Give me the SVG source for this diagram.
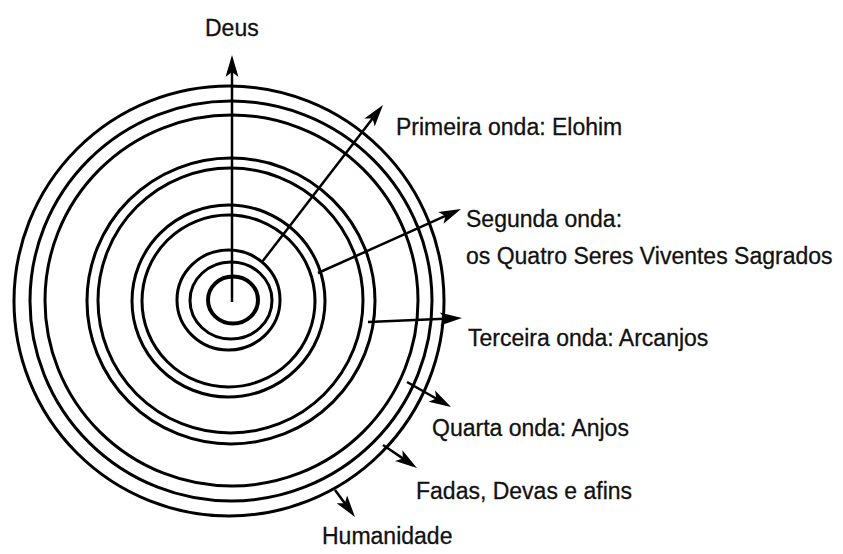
<svg xmlns="http://www.w3.org/2000/svg" width="843" height="554" viewBox="0 0 843 554">
<style>
.ring{fill:none;stroke:#000;stroke-width:3}
.arr{stroke:#000;stroke-width:2.5;fill:none;marker-end:url(#ah)}
.lbl{font-family:"Liberation Sans",Arial,sans-serif;font-size:23px;fill:#111;stroke:#111;stroke-width:0.3}
</style>
<defs>
<marker id="ah" markerUnits="userSpaceOnUse" markerWidth="22" markerHeight="13" refX="16" refY="6.5" orient="auto" overflow="visible">
<path d="M0,0 L22,6.5 L0,13 L5,6.5 z" fill="#000"/>
</marker>
</defs>
<rect width="843" height="554" fill="#fff"/>
<g id="rings">
<ellipse class="ring" cx="233" cy="300" rx="25" ry="23.5" style="stroke-width:4"/>
<ellipse class="ring" cx="231" cy="300.5" rx="41" ry="38.5"/>
<ellipse class="ring" cx="228.5" cy="300" rx="51.5" ry="50"/>
<ellipse class="ring" cx="228.5" cy="301" rx="86.5" ry="86"/>
<ellipse class="ring" cx="228.5" cy="301" rx="96.5" ry="96"/>
<ellipse class="ring" cx="230.5" cy="300.5" rx="132.5" ry="132.5"/>
<ellipse class="ring" cx="231" cy="301" rx="144" ry="143"/>
<ellipse class="ring" cx="231.5" cy="300.5" rx="186.5" ry="185.5"/>
<ellipse class="ring" cx="231" cy="301" rx="201" ry="200"/>
<ellipse class="ring" cx="229" cy="301" rx="215" ry="215"/>
</g>
<g id="connectors">
<line class="arr" x1="232" y1="302" x2="232" y2="61"/>
<line class="arr" x1="262" y1="262" x2="379.3" y2="109.8"/>
<line class="arr" x1="318" y1="273" x2="455.5" y2="211.4"/>
<line class="arr" x1="368" y1="322" x2="456" y2="318.3"/>
<line class="arr" x1="407" y1="382" x2="445.8" y2="404"/>
<line class="arr" x1="383" y1="445" x2="412" y2="464.6"/>
<line class="arr" x1="335" y1="490" x2="351.4" y2="512.2"/>
</g>
<g id="deus"><text class="lbl" x="205" y="36">Deus</text></g>
<g id="primeira"><text class="lbl" x="396" y="135">Primeira onda: Elohim</text></g>
<g id="segunda"><text class="lbl" x="466" y="227">Segunda onda:</text><text class="lbl" x="466" y="264">os Quatro Seres Viventes Sagrados</text></g>
<g id="terceira"><text class="lbl" x="468" y="346">Terceira onda: Arcanjos</text></g>
<g id="quarta"><text class="lbl" x="432" y="436">Quarta onda: Anjos</text></g>
<g id="fadas"><text class="lbl" x="416" y="499">Fadas, Devas e afins</text></g>
<g id="humanidade"><text class="lbl" x="322" y="544">Humanidade</text></g>
</svg>
